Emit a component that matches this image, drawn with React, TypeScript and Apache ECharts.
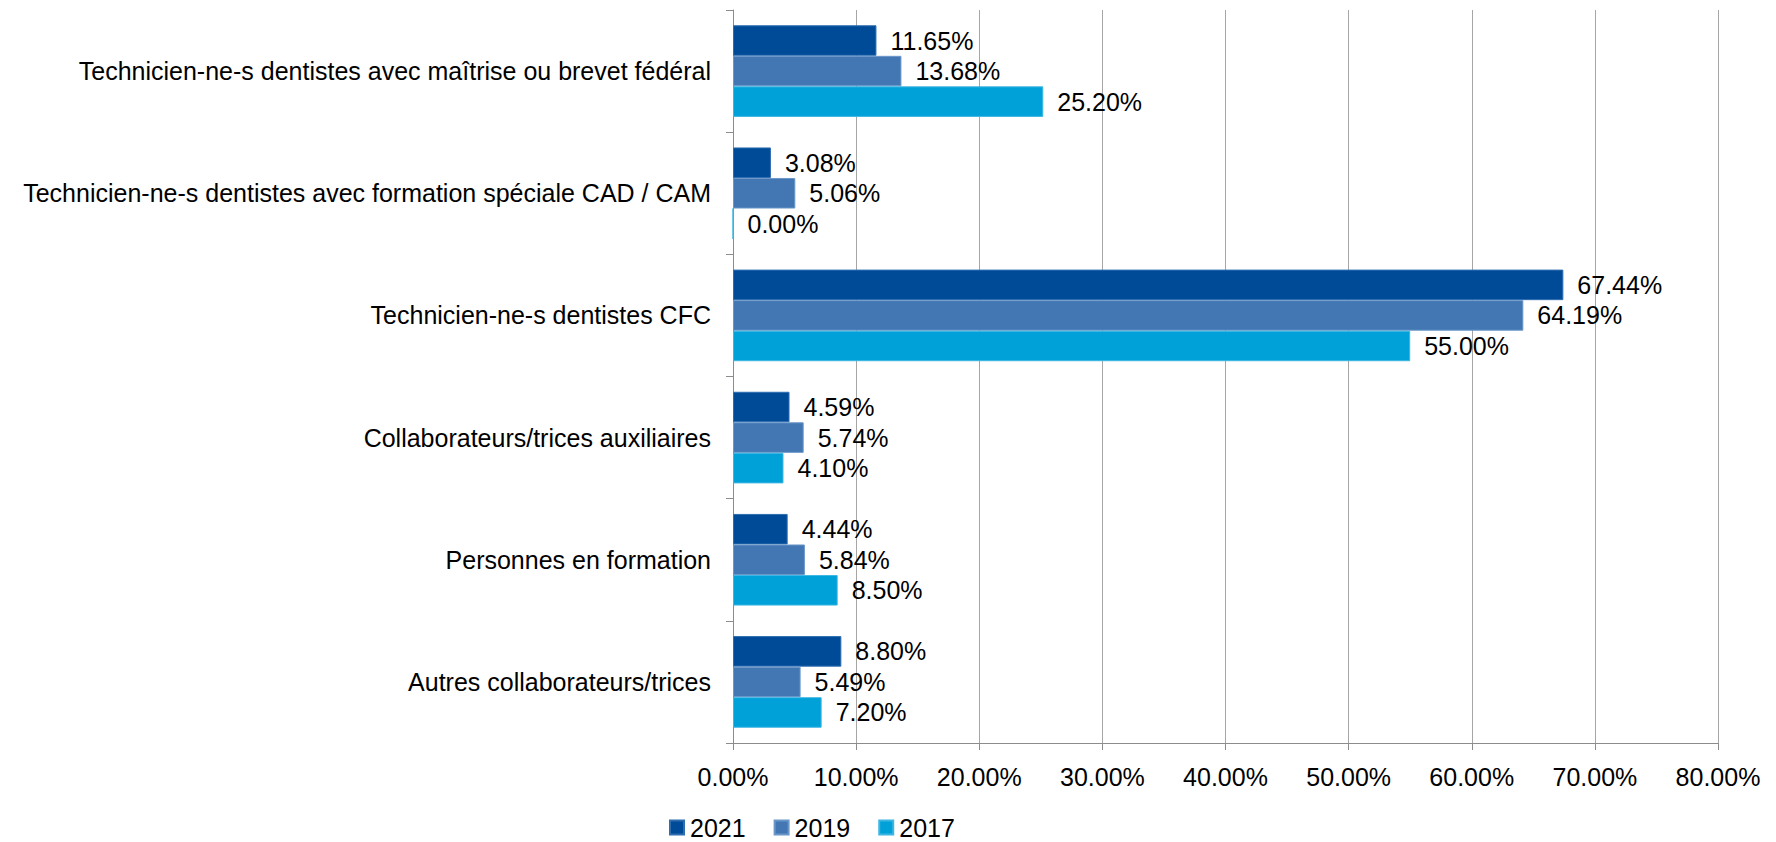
import React, { useEffect, useRef } from "react";
import * as echarts from "echarts";

const categories = [
  "Technicien-ne-s dentistes avec maîtrise ou brevet fédéral",
  "Technicien-ne-s dentistes avec formation spéciale CAD / CAM",
  "Technicien-ne-s dentistes CFC",
  "Collaborateurs/trices auxiliaires",
  "Personnes en formation",
  "Autres collaborateurs/trices",
];
const seriesNames = ["2021", "2019", "2017"];
const values2021 = [11.65, 3.08, 67.44, 4.59, 4.44, 8.8];
const values2019 = [13.68, 5.06, 64.19, 5.74, 5.84, 5.49];
const values2017 = [25.2, 0.0, 55.0, 4.1, 8.5, 7.2];
const colors = ["#004B98", "#4277B4", "#00A0D8"];
const borderColors = ["#2E6DB0", "#6B97C8", "#3DB6E2"];

export default function App() {
  const ref = useRef<HTMLDivElement>(null);
  useEffect(() => {
    if (!ref.current) return;
    const chart = echarts.init(ref.current, undefined, { renderer: "svg" });
    const font = "'Liberation Sans', Arial, sans-serif";
    const data = [values2021, values2019, values2017];
    chart.setOption({
      animation: false,
      textStyle: { fontFamily: font },
      grid: { left: 733, right: 58, top: 10, bottom: 99, containLabel: false },
      legend: {
        data: seriesNames,
        left: 669,
        top: 815,
        padding: 0,
        icon: "rect",
        itemWidth: 14,
        itemHeight: 14,
        itemGap: 28,
        textStyle: { fontSize: 25, color: "#000", fontFamily: font, padding: [0, 0, 0, 1] },
      },
      xAxis: {
        type: "value",
        min: 0,
        max: 80,
        interval: 10,
        axisLine: { show: true, lineStyle: { color: "#8c8c8c", width: 1 } },
        axisTick: { show: true, length: 7, lineStyle: { color: "#8c8c8c" } },
        splitLine: { show: true, lineStyle: { color: "#a6a6a6", width: 1 } },
        axisLabel: {
          margin: 21,
          fontSize: 25,
          color: "#000",
          fontFamily: font,
          formatter: (v: number) => v.toFixed(2) + "%",
        },
      },
      yAxis: {
        type: "category",
        data: categories,
        inverse: true,
        axisLine: { show: true, lineStyle: { color: "#8c8c8c", width: 1 } },
        axisTick: { show: true, length: 7, lineStyle: { color: "#8c8c8c" } },
        axisLabel: { margin: 22, fontSize: 25, color: "#000", fontFamily: font },
      },
      series: seriesNames.map((name, i) => ({
        name,
        type: "bar",
        data: data[i],
        barGap: "0%",
        barCategoryGap: "25%",
        itemStyle: { color: colors[i], borderColor: borderColors[i], borderWidth: 1 },
        label: {
          show: true,
          position: "right",
          distance: 14,
          fontSize: 25,
          color: "#000",
          fontFamily: font,
          formatter: (p: any) => Number(p.value).toFixed(2) + "%",
        },
      })),
    });
    return () => chart.dispose();
  }, []);
  return (
    <div
      ref={ref}
      style={{ position: "absolute", left: 0, top: 0, width: 1776, height: 842 }}
    />
  );
}
